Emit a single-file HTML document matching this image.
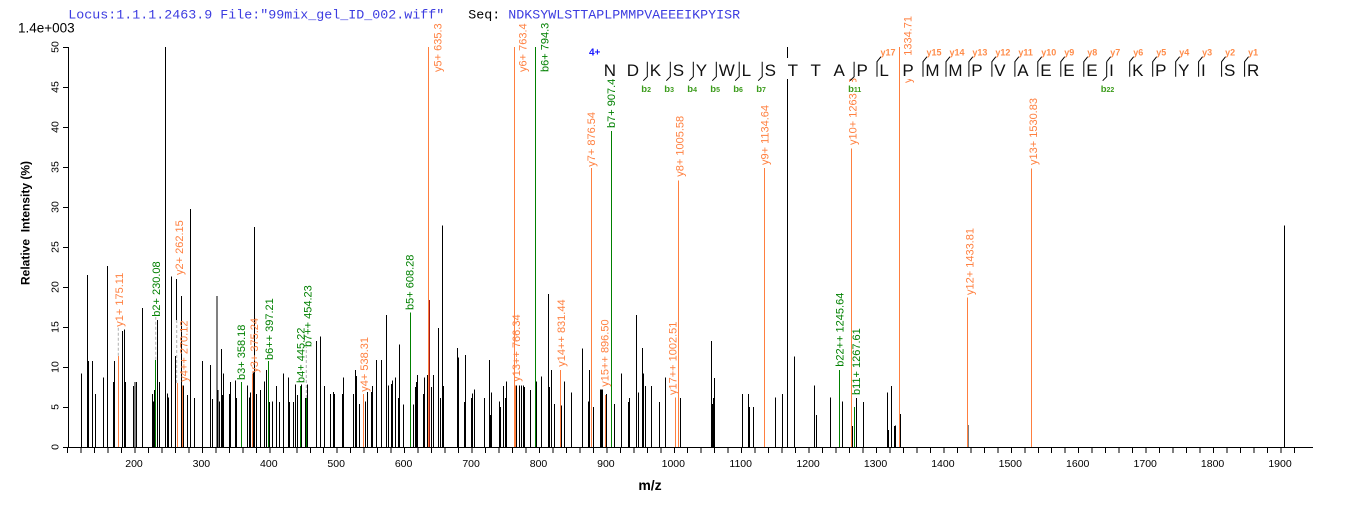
<!DOCTYPE html>
<html><head><meta charset="utf-8"><style>
html,body{margin:0;padding:0;background:#fff;}
svg{display:block;}
text{font-family:"Liberation Sans",Arial,sans-serif;}
.mono{font-family:"Liberation Mono","Courier New",monospace;font-size:13.33px;white-space:pre;}
.tk{font-size:10.5px;fill:#000;}
.lo{font-size:11px;fill:#ff8040;}
.lg{font-size:11px;fill:#008000;}
.seq{font-size:17px;fill:#111;}
.bl{font-size:9.5px;font-weight:bold;fill:#3b9b1b;}
.yl{font-size:9px;font-weight:bold;fill:#ff8c4a;}
</style></head><body>
<svg width="1362" height="507" viewBox="0 0 1362 507" xmlns="http://www.w3.org/2000/svg">
<rect width="1362" height="507" fill="#fff"/>
<!-- header -->
<text class="mono" x="68.3" y="18.7"><tspan fill="#3c3ce0">Locus:1.1.1.2463.9 File:"99mix_gel_ID_002.wiff"</tspan><tspan fill="#000">   Seq: </tspan><tspan fill="#3c3ce0">NDKSYWLSTTAPLPMMPVAEEEIKPYISR</tspan></text>
<text x="18" y="32.3" style="font-size:13.5px" fill="#000">1.4e+003</text>

<!-- black peaks -->
<g shape-rendering="crispEdges" stroke="#000" stroke-width="1" fill="none">
<path d="M81.3 447V373.4M87.7 447V275M88.7 447V361M92.3 447V361M95.3 447V394.2M103.7 447V377.4M107.7 447V266.2M113.3 447V382.2M114.3 447V361M122.3 447V331M124.3 447V329.4M125.3 447V382.2M133.7 447V386.2M135 447V382.2M136.3 447V382.2M142.3 447V307.8M152.3 447V394.2M153.7 447V401.4M154.7 447V390.2M157.3 447V319.8M159.3 447V382.2M165.3 447V47M167.3 447V393.4M168.3 447V397.4M171.3 447V276.6M175.3 447V355.8M176.7 320V279M181.3 447V295.8M183.3 447V385.4M187.3 447V395M190.3 447V209M194.3 447V398.2M202.3 447V361M210.3 447V365M212.3 447V399M217 447V295.8M218 447V390.2M219.3 447V401.4M221.3 447V349M222.3 447V395M223.3 447V373.4M229.3 447V394.2M230.3 447V382.2M235.3 447V380.6M236.3 447V398.2M247.3 447V385.4M249.3 447V397.4M250.3 447V392.6M253.3 447V372.6M254.3 447V227M256.3 447V394.2M260.3 447V390.2M264.3 447V381.4M266.3 447V370.2M269.3 447V402.2M272.3 447V401.4M276.3 447V386.2M279.3 447V402.2M283.3 447V373.4M288.3 447V377.4M289.3 447V402.2M293.3 447V402.2M295.3 447V384.6M297.3 447V395M301.3 447V384.6M305.3 447V398.2M307.3 447V384.6M316.3 447V341M320.3 447V336.6M324.3 447V386.2M330.3 447V394.2M333.3 447V391.8M334.3 447V394.2M342.3 447V394.2M343.3 447V377.4M353.3 447V394.2M355.3 447V370.2M356.3 447V375.8M359.3 447V403.8M365.3 447V401.4M367.3 447V391.8M371.3 447V391.8M372.3 447V386.2M376.3 447V359.8M381.5 447V359.8M386.3 447V315M388.3 447V385.4M391.3 447V383.8M392.3 447V380.6M395.3 447V377.4M398.3 447V398.2M399.3 447V344.6M403.3 447V404.6M413.3 447V404.6M415.3 447V387M416.3 447V382.2M417.3 447V375M423.3 447V394.2M424.3 447V377.4M427.3 447V375M431.3 447V387M433.3 447V375M438.3 447V327.8M440.3 447V398.2M442.3 447V225.4M443.3 447V386.2M457.3 447V347.8M458.3 447V357.4M464.3 447V402.2M465.3 447V355M471.3 447V398.2M472.3 447V393.4M474.3 447V389.4M484.3 447V398.2M489.3 447V359.8M490.3 447V415M491.3 447V392.6M499.3 447V401.4M500.3 447V407M503.3 447V386.2M505.3 447V398.2M506.3 447V381.4M516.3 447V385.4M519.3 447V385.4M521.3 447V385.4M523.3 447V385.4M524.3 447V387M530.3 447V390.2M536.3 447V381.4M541.3 447V376.6M548.3 447V294.2M549.3 447V387M551.3 447V370.2M554.3 447V403.8M561.3 447V405.4M564.3 447V381.4M571.3 447V392.6M582.3 447V348.6M588.3 447V401.4M589.3 447V370.2M593.3 447V407M600.3 447V389.4M601.3 447V389.4M602.3 447V389.4M606.3 447V394.2M614.3 447V403.8M621.3 447V373.4M628.3 447V402.2M629.3 447V398.2M636.3 447V315M638.3 447V392.6M642.3 447V347.8M643.3 447V373.4M645.3 447V386.2M651.3 447V386.2M659.3 447V402.2M665.3 447V377.4M680.3 447V398.2M711.7 447V341M712.7 447V403.8M713.7 447V398.2M714.7 447V378.2M742.7 447V394.2M748.7 447V394.2M749.7 447V407M753.7 447V407M775.7 447V397.4M782.7 447V394.2M787.3 447V47M794.3 447V356.6M814.3 447V385.4M816.3 447V415M830.3 447V397.4M842.3 447V401.4M852.3 447V426.2M856.3 447V398.2M863.3 447V402.2M887.3 447V392.6M888.3 447V430.2M891.3 447V386.2M894.3 447V426.2M895.3 447V425.4M900.3 447V414.2M968 447V425M1284.3 447V225.4"/>
</g>
<!-- colored peaks -->
<g shape-rendering="crispEdges" stroke-width="1" fill="none">
<path stroke="#ff7f3f" d="M118.3 447V355.8M177.3 447V383M182.3 447V385.4M252.3 447V373.4M363.3 447V394.2M428.7 447V47M514.3 447V47M515.3 447V385.4M560.3 447V370.2M591.3 447V167.8M605.3 447V395M675.3 447V397.4M678.3 447V180.6M764.3 447V167.8M851.3 447V148.6M899.3 447V47M967.3 447V297.4M1031.3 447V168.6"/>
<path stroke="#008000" d="M155.7 447V359.8M241.3 447V382.2M268.3 447V361M300.3 447V386.2M306.3 447V398.2M410.3 447V312.6M535.3 447V47M611.3 447V131M839.3 447V370.2M854.3 447V407"/>
<path stroke="#a01818" d="M429.7 447V299.8"/>
</g>
<!-- dashed connectors -->
<g stroke="#b0b0b0" stroke-width="1" stroke-dasharray="3,2" fill="none">
<path d="M118.3 355.8V327M155.7 359.8V317M176.7 383V320M306.3 398V347"/>
</g>

<!-- peak labels -->
<g>
<text class="lo" transform="translate(123.2,326.7) rotate(-90)">y1+ 175.11</text>
<text class="lg" transform="translate(159.8,316.7) rotate(-90)">b2+ 230.08</text>
<text class="lo" transform="translate(183.2,275) rotate(-90)">y2+ 262.15</text>
<text class="lo" transform="translate(187.5,381.7) rotate(-90)">y4++ 270.12</text>
<text class="lg" transform="translate(244.8,380) rotate(-90)">b3+ 358.18</text>
<text class="lo" transform="translate(258.2,372.7) rotate(-90)">y3+ 375.24</text>
<text class="lg" transform="translate(273.2,360) rotate(-90)">b6++ 397.21</text>
<text class="lg" transform="translate(304.5,383) rotate(-90)">b4+ 445.22</text>
<text class="lg" transform="translate(311.5,347) rotate(-90)">b7++ 454.23</text>
<text class="lo" transform="translate(368.2,391.7) rotate(-90)">y4+ 538.31</text>
<text class="lg" transform="translate(413.5,310) rotate(-90)">b5+ 608.28</text>
<text class="lo" transform="translate(441.5,72) rotate(-90)">y5+ 635.3</text>
<text class="lo" transform="translate(520.2,381.7) rotate(-90)">y13++ 766.34</text>
<text class="lo" transform="translate(526.5,72) rotate(-90)">y6+ 763.4</text>
<text class="lg" transform="translate(548.5,72) rotate(-90)">b6+ 794.3</text>
<text class="lo" transform="translate(565.2,366.7) rotate(-90)">y14++ 831.44</text>
<text class="lo" transform="translate(595.2,166.7) rotate(-90)">y7+ 876.54</text>
<text class="lo" transform="translate(608.5,386.7) rotate(-90)">y15++ 896.50</text>
<text class="lg" transform="translate(615.2,128) rotate(-90)">b7+ 907.43</text>
<text class="lo" transform="translate(676.5,395) rotate(-90)">y17++ 1002.51</text>
<text class="lo" transform="translate(683.5,176.7) rotate(-90)">y8+ 1005.58</text>
<text class="lo" transform="translate(768.5,165) rotate(-90)">y9+ 1134.64</text>
<text class="lg" transform="translate(843.5,366.7) rotate(-90)">b22++ 1245.64</text>
<text class="lo" transform="translate(856.5,145) rotate(-90)">y10+ 1263.63</text>
<text class="lg" transform="translate(860.2,395) rotate(-90)">b11+ 1267.61</text>
<text class="lo" transform="translate(911.5,83) rotate(-90)">y17+ 1334.71</text>
<text class="lo" transform="translate(973.5,295) rotate(-90)">y12+ 1433.81</text>
<text class="lo" transform="translate(1036.8,165) rotate(-90)">y13+ 1530.83</text>
</g>

<!-- sequence backgrounds -->
<g fill="#fff">
<rect x="602.8" y="58" width="14.3" height="21"/>
<rect x="625.8" y="58" width="14.3" height="21"/>
<rect x="648.7" y="58" width="13.3" height="21"/>
<rect x="671.7" y="58" width="13.3" height="21"/>
<rect x="694.7" y="58" width="13.3" height="21"/>
<rect x="717.7" y="58" width="18" height="21"/>
<rect x="740.6" y="58" width="11.5" height="21"/>
<rect x="763.6" y="58" width="13.3" height="21"/>
<rect x="786.6" y="58" width="12.4" height="21"/>
<rect x="809.5" y="58" width="12.4" height="21"/>
<rect x="832.5" y="58" width="13.3" height="21"/>
<rect x="855.5" y="58" width="13.3" height="21"/>
<rect x="878.4" y="58" width="11.5" height="21"/>
<rect x="901.4" y="58" width="13.3" height="21"/>
<rect x="924.4" y="58" width="16.2" height="21"/>
<rect x="947.4" y="58" width="16.2" height="21"/>
<rect x="970.3" y="58" width="13.3" height="21"/>
<rect x="993.3" y="58" width="13.3" height="21"/>
<rect x="1016.3" y="58" width="13.3" height="21"/>
<rect x="1039.2" y="58" width="13.3" height="21"/>
<rect x="1062.2" y="58" width="13.3" height="21"/>
<rect x="1085.2" y="58" width="13.3" height="21"/>
<rect x="1108.1" y="58" width="6.7" height="21"/>
<rect x="1131.1" y="58" width="13.3" height="21"/>
<rect x="1154.1" y="58" width="13.3" height="21"/>
<rect x="1177.1" y="58" width="13.3" height="21"/>
<rect x="1200" y="58" width="6.7" height="21"/>
<rect x="1223" y="58" width="13.3" height="21"/>
<rect x="1246" y="58" width="14.3" height="21"/>
<!-- b label boxes -->
<rect x="640.3" y="82" width="16" height="11"/>
<rect x="663.3" y="82" width="16" height="11"/>
<rect x="686.3" y="82" width="16" height="11"/>
<rect x="709.3" y="82" width="16" height="11"/>
<rect x="732.2" y="82" width="16" height="11"/>
<rect x="755.2" y="82" width="16" height="11"/>
<rect x="847.1" y="82" width="19" height="11"/>
<rect x="1099.7" y="82" width="19" height="11"/>
</g>
<!-- sequence letters -->
<g class="seq">
<text class="seq" x="603.8" y="76">N</text>
<text class="seq" x="626.8" y="76">D</text>
<text class="seq" x="649.7" y="76">K</text>
<text class="seq" x="672.7" y="76">S</text>
<text class="seq" x="695.7" y="76">Y</text>
<text class="seq" x="718.7" y="76">W</text>
<text class="seq" x="741.6" y="76">L</text>
<text class="seq" x="764.6" y="76">S</text>
<text class="seq" x="787.6" y="76">T</text>
<text class="seq" x="810.5" y="76">T</text>
<text class="seq" x="833.5" y="76">A</text>
<text class="seq" x="856.5" y="76">P</text>
<text class="seq" x="879.4" y="76">L</text>
<text class="seq" x="902.4" y="76">P</text>
<text class="seq" x="925.4" y="76">M</text>
<text class="seq" x="948.4" y="76">M</text>
<text class="seq" x="971.3" y="76">P</text>
<text class="seq" x="994.3" y="76">V</text>
<text class="seq" x="1017.3" y="76">A</text>
<text class="seq" x="1040.2" y="76">E</text>
<text class="seq" x="1063.2" y="76">E</text>
<text class="seq" x="1086.2" y="76">E</text>
<text class="seq" x="1109.1" y="76">I</text>
<text class="seq" x="1132.1" y="76">K</text>
<text class="seq" x="1155.1" y="76">P</text>
<text class="seq" x="1178.1" y="76">Y</text>
<text class="seq" x="1201" y="76">I</text>
<text class="seq" x="1224" y="76">S</text>
<text class="seq" x="1247" y="76">R</text>
</g>
<text x="589" y="55.5" style="font-size:10px;font-weight:bold" fill="#1a1aff">4+</text>
<!-- separators: b markers -->
<g stroke="#000" stroke-width="1" fill="none">
<path d="M647.3 61.7V76.7L643.3 80.7M670.3 61.7V76.7L666.3 80.7M693.3 61.7V76.7L689.3 80.7M716.3 61.7V76.7L712.3 80.7M739.2 61.7V76.7L735.2 80.7M762.2 61.7V76.7L758.2 80.7M854.1 61.7V76.7L850.1 80.7M1106.7 61.7V76.7L1102.7 80.7"/>
<path d="M881 56.7L877 61.7V76.7M927 56.7L923 61.7V76.7M950 56.7L946 61.7V76.7M972.9 56.7L968.9 61.7V76.7M995.9 56.7L991.9 61.7V76.7M1018.9 56.7L1014.9 61.7V76.7M1041.8 56.7L1037.8 61.7V76.7M1064.8 56.7L1060.8 61.7V76.7M1087.8 56.7L1083.8 61.7V76.7M1110.7 56.7L1106.7 61.7M1133.7 56.7L1129.7 61.7V76.7M1156.7 56.7L1152.7 61.7V76.7M1179.7 56.7L1175.7 61.7V76.7M1202.6 56.7L1198.6 61.7V76.7M1225.6 56.7L1221.6 61.7V76.7M1248.6 56.7L1244.6 61.7V76.7"/>
</g>
<!-- b labels -->
<g>
<text class="bl" x="641.3" y="92">b<tspan style="font-size:7px">2</tspan></text>
<text class="bl" x="664.3" y="92">b<tspan style="font-size:7px">3</tspan></text>
<text class="bl" x="687.3" y="92">b<tspan style="font-size:7px">4</tspan></text>
<text class="bl" x="710.3" y="92">b<tspan style="font-size:7px">5</tspan></text>
<text class="bl" x="733.2" y="92">b<tspan style="font-size:7px">6</tspan></text>
<text class="bl" x="756.2" y="92">b<tspan style="font-size:7px">7</tspan></text>
<text class="bl" x="848.1" y="92">b<tspan style="font-size:7px">11</tspan></text>
<text class="bl" x="1100.7" y="92">b<tspan style="font-size:7px">22</tspan></text>
</g>
<!-- y labels -->
<g>
<text class="yl" x="880.5" y="55.5">y17</text>
<text class="yl" x="926.5" y="55.5">y15</text>
<text class="yl" x="949.5" y="55.5">y14</text>
<text class="yl" x="972.4" y="55.5">y13</text>
<text class="yl" x="995.4" y="55.5">y12</text>
<text class="yl" x="1018.4" y="55.5">y11</text>
<text class="yl" x="1041.3" y="55.5">y10</text>
<text class="yl" x="1064.3" y="55.5">y9</text>
<text class="yl" x="1087.3" y="55.5">y8</text>
<text class="yl" x="1110.2" y="55.5">y7</text>
<text class="yl" x="1133.2" y="55.5">y6</text>
<text class="yl" x="1156.2" y="55.5">y5</text>
<text class="yl" x="1179.2" y="55.5">y4</text>
<text class="yl" x="1202.1" y="55.5">y3</text>
<text class="yl" x="1225.1" y="55.5">y2</text>
<text class="yl" x="1248.1" y="55.5">y1</text>
</g>

<!-- axes -->
<g shape-rendering="crispEdges" stroke="#000" stroke-width="1" fill="none">
<path d="M68.3 47V447.5M68 447.5H1313"/>
<path d="M63 447.5H68.3M63 407.5H68.3M63 367.5H68.3M63 327.5H68.3M63 287.5H68.3M63 247.5H68.3M63 207.5H68.3M63 167.5H68.3M63 127.5H68.3M63 87.5H68.3M63 47.5H68.3"/>
<path d="M67.6 447V453M81.1 447V453M94.6 447V453M108.1 447V453M121.5 447V453M135 447V453M148.5 447V453M162 447V453M175.4 447V453M188.9 447V453M202.4 447V453M215.9 447V453M229.4 447V453M242.9 447V453M256.3 447V453M269.8 447V453M283.3 447V453M296.8 447V453M310.3 447V453M323.7 447V453M337.2 447V453M350.7 447V453M364.2 447V453M377.7 447V453M391.1 447V453M404.6 447V453M418.1 447V453M431.6 447V453M445.1 447V453M458.6 447V453M472.1 447V453M485.5 447V453M499 447V453M512.5 447V453M526 447V453M539.5 447V453M552.9 447V453M566.4 447V453M579.9 447V453M593.4 447V453M606.9 447V453M620.3 447V453M633.8 447V453M647.3 447V453M660.8 447V453M674.3 447V453M687.7 447V453M701.2 447V453M714.7 447V453M728.2 447V453M741.7 447V453M755.2 447V453M768.6 447V453M782.1 447V453M795.6 447V453M809.1 447V453M822.6 447V453M836 447V453M849.5 447V453M863 447V453M876.5 447V453M890 447V453M903.4 447V453M916.9 447V453M930.4 447V453M943.9 447V453M957.4 447V453M970.8 447V453M984.3 447V453M997.8 447V453M1011.3 447V453M1024.8 447V453M1038.3 447V453M1051.7 447V453M1065.2 447V453M1078.7 447V453M1092.2 447V453M1105.7 447V453M1119.1 447V453M1132.6 447V453M1146.1 447V453M1159.6 447V453M1173.1 447V453M1186.5 447V453M1200 447V453M1213.5 447V453M1227 447V453M1240.5 447V453M1253.9 447V453M1267.4 447V453M1280.9 447V453M1294.4 447V453"/>
</g>
<!-- y tick labels -->
<g class="tk" text-anchor="middle">
<text class="tk" transform="translate(58.3,447) rotate(-90)">0</text>
<text class="tk" transform="translate(58.3,407) rotate(-90)">5</text>
<text class="tk" transform="translate(58.3,367) rotate(-90)">10</text>
<text class="tk" transform="translate(58.3,327) rotate(-90)">15</text>
<text class="tk" transform="translate(58.3,287) rotate(-90)">20</text>
<text class="tk" transform="translate(58.3,247) rotate(-90)">25</text>
<text class="tk" transform="translate(58.3,207) rotate(-90)">30</text>
<text class="tk" transform="translate(58.3,167) rotate(-90)">35</text>
<text class="tk" transform="translate(58.3,127) rotate(-90)">40</text>
<text class="tk" transform="translate(58.3,87) rotate(-90)">45</text>
<text class="tk" transform="translate(58.3,47) rotate(-90)">50</text>
</g>
<!-- x tick labels -->
<g text-anchor="middle">
<text class="tk" x="134" y="467">200</text>
<text class="tk" x="201.4" y="467">300</text>
<text class="tk" x="268.8" y="467">400</text>
<text class="tk" x="336.2" y="467">500</text>
<text class="tk" x="403.6" y="467">600</text>
<text class="tk" x="471.1" y="467">700</text>
<text class="tk" x="538.5" y="467">800</text>
<text class="tk" x="605.9" y="467">900</text>
<text class="tk" x="673.3" y="467">1000</text>
<text class="tk" x="740.7" y="467">1100</text>
<text class="tk" x="808.1" y="467">1200</text>
<text class="tk" x="875.5" y="467">1300</text>
<text class="tk" x="942.9" y="467">1400</text>
<text class="tk" x="1010.3" y="467">1500</text>
<text class="tk" x="1077.7" y="467">1600</text>
<text class="tk" x="1145.2" y="467">1700</text>
<text class="tk" x="1212.6" y="467">1800</text>
<text class="tk" x="1280" y="467">1900</text>
</g>
<!-- axis titles -->
<text transform="translate(29.5,285) rotate(-90)" style="font-size:12px;font-weight:bold;white-space:pre" fill="#000">Relative  Intensity (%)</text>
<text x="650" y="490" text-anchor="middle" style="font-size:14px;font-weight:bold" fill="#000">m/z</text>
</svg>
</body></html>
